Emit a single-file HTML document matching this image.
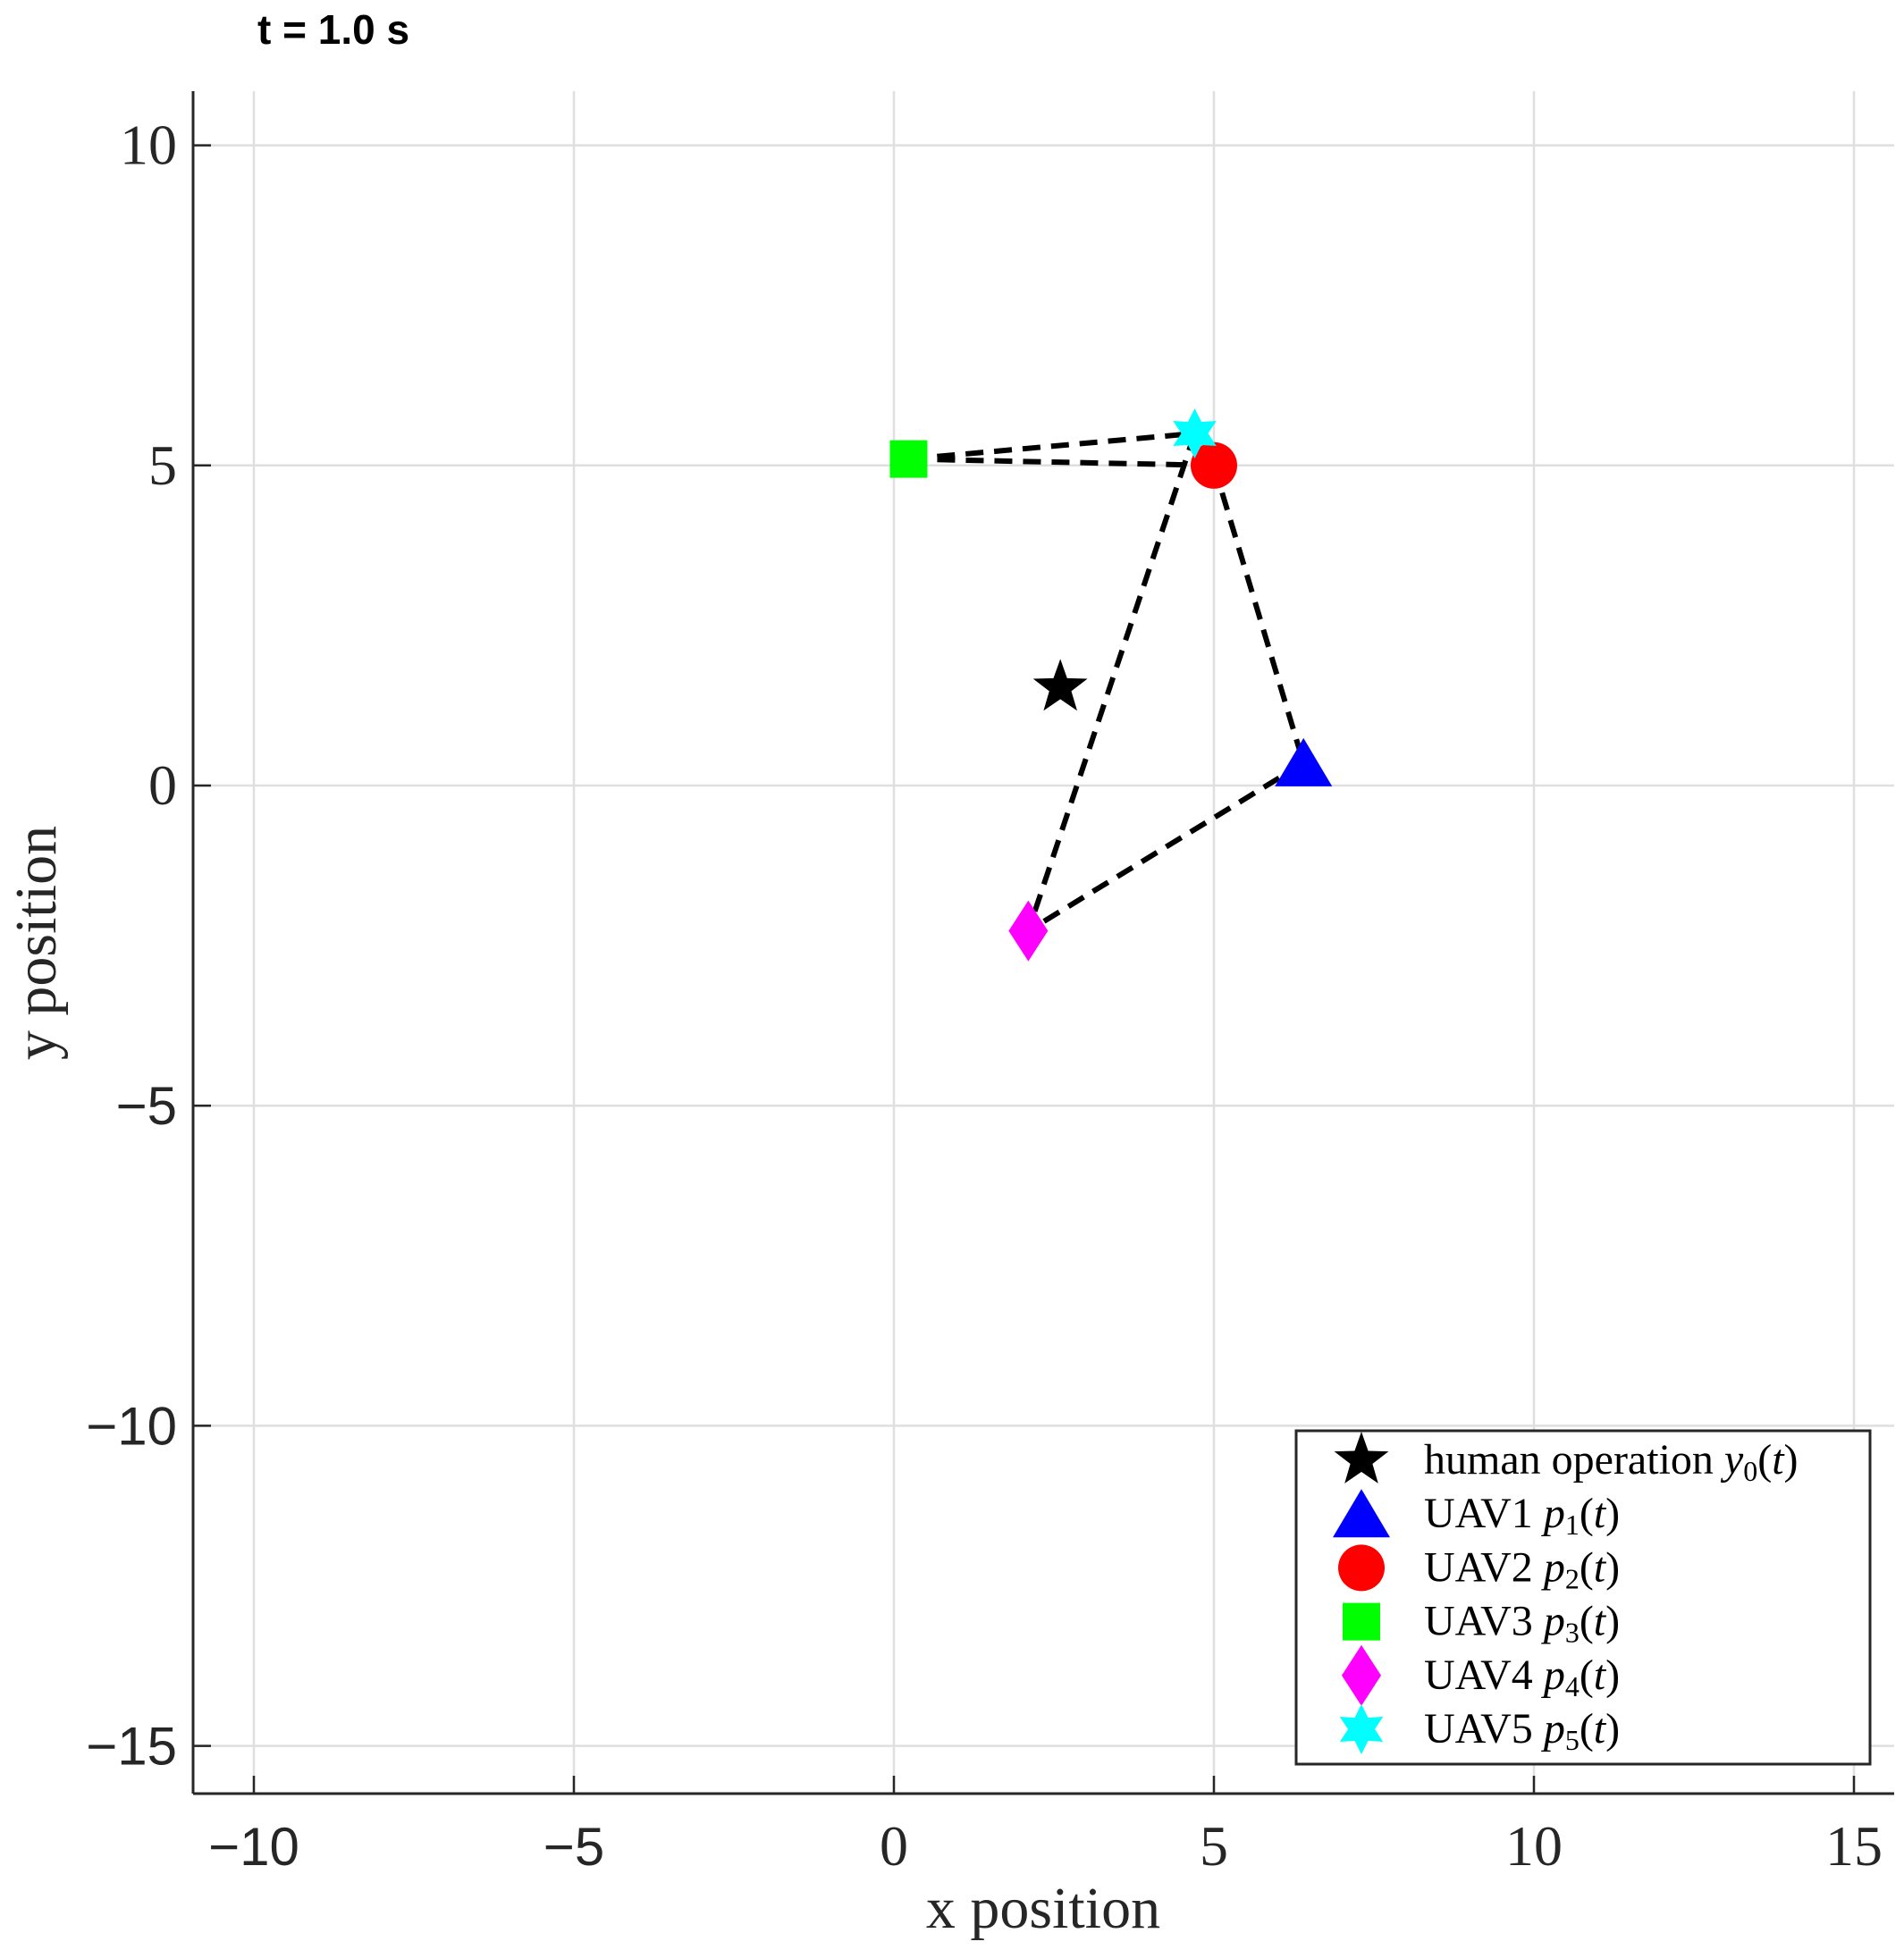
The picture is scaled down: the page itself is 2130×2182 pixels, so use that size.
<!DOCTYPE html>
<html><head><meta charset="utf-8"><style>
html,body{margin:0;padding:0;background:#fff;}
svg{display:block;}
.serif{font-family:"Liberation Serif",serif;}
.sans{font-family:"Liberation Sans",sans-serif;}
</style></head>
<body>
<svg id="chart" width="2130" height="2182" viewBox="0 0 2130 2182" xmlns="http://www.w3.org/2000/svg">
<rect width="2130" height="2182" fill="#fff"/>
<text x="288" y="49" class="sans" font-size="46" font-weight="bold" fill="#000">t = 1.0 s</text>
<g id="grid"></g>
<g id="axes"></g>
<g id="links"></g>
<g id="marks"></g>
<text x="1167" y="2157" text-anchor="middle" class="serif" font-size="66" fill="#262626">x position</text>
<text transform="translate(62,1055) rotate(-90)" x="0" y="0" text-anchor="middle" class="serif" font-size="66" fill="#262626">y position</text>
<g id="legend"></g>
</svg>
<script>
const xTicks = [-10, -5, 0, 5, 10, 15];
const yTicks = [10, 5, 0, -5, -10, -15];
const agentNames = ["human operation", "UAV1", "UAV2", "UAV3", "UAV4", "UAV5"];
const agentX = [2.6, 6.4, 5.0, 0.23, 2.1, 4.7];
const agentY = [1.53, 0.35, 5.0, 5.1, -2.27, 5.5];
const linkFrom = [3, 3, 5, 2, 1];
const linkTo = [5, 2, 4, 1, 4];

const NS = "http://www.w3.org/2000/svg";
const L = 216, R = 2119, T = 102, B = 2007;
function sx(v){ return 284 + (v + 10) * 71.6; }
function sy(v){ return 879 - v * 71.64; }
function mk(tag, attrs, parent){
  const e = document.createElementNS(NS, tag);
  for (const k in attrs) e.setAttribute(k, attrs[k]);
  parent.appendChild(e); return e;
}
const grid = document.getElementById('grid');
const axes = document.getElementById('axes');
xTicks.forEach(v=>{
  const g = mk('line',{x1:sx(v),x2:sx(v),y1:T,y2:B,stroke:'#dfdfdf','stroke-width':2.5},grid);
  
  
  const t = mk('line',{x1:sx(v),x2:sx(v),y1:B,y2:B-20,stroke:'#262626','stroke-width':2.5},axes);
  
  
  const lab = mk('text',{x:sx(v),y:2087,'text-anchor':'middle','font-size':v<0?60:64,fill:'#262626','class': v<0?'sans':'serif'},axes);
  lab.textContent = v<0 ? '\u2212'+Math.abs(v) : String(v);
  
  
});
yTicks.forEach(v=>{
  const g = mk('line',{x1:L,x2:R,y1:sy(v),y2:sy(v),stroke:'#dfdfdf','stroke-width':2.5},grid);
  
  
  const t = mk('line',{x1:L,x2:L+20,y1:sy(v),y2:sy(v),stroke:'#262626','stroke-width':2.5},axes);
  
  
  const lab = mk('text',{x:L-18,y:sy(v)+21,'text-anchor':'end','font-size':v<0?60:64,fill:'#262626','class': v<0?'sans':'serif'},axes);
  lab.textContent = v<0 ? '\u2212'+Math.abs(v) : String(v);
  
  
});
const xa = mk('line',{x1:L,x2:R,y1:B,y2:B,stroke:'#262626','stroke-width':3},axes);


const ya = mk('line',{x1:L,x2:L,y1:T,y2:B,stroke:'#262626','stroke-width':3},axes);



const links = document.getElementById('links');
linkFrom.forEach((a,i)=>{
  const b = linkTo[i];
  const l = mk('line',{x1:sx(agentX[a]),y1:sy(agentY[a]),x2:sx(agentX[b]),y2:sy(agentY[b]),stroke:'#000','stroke-width':6,'stroke-dasharray':'20 12'},links);
  
  
});

function starPts(cx,cy,ro,ri,n,rot){
  let p=[];
  for(let i=0;i<2*n;i++){const r=i%2?ri:ro;const a=rot+Math.PI*i/n;p.push((cx+r*Math.sin(a)).toFixed(1)+','+(cy-r*Math.cos(a)).toFixed(1));}
  return p.join(' ');
}
const colors = ['#000','#0000ff','#ff0000','#00ff00','#ff00ff','#00ffff'];
function marker(i,cx,cy,parent){
  let e;
  if(i===0) e = mk('polygon',{points:starPts(cx,cy,32,13,5,0),fill:colors[0]},parent);
  else if(i===1) e = mk('polygon',{points:`${cx},${cy-28} ${cx+32},${cy+26} ${cx-32},${cy+26}`,fill:colors[1]},parent);
  else if(i===2) e = mk('circle',{cx:cx,cy:cy,r:26,fill:colors[2]},parent);
  else if(i===3) e = mk('rect',{x:cx-21,y:cy-21,width:42,height:42,fill:colors[3]},parent);
  else if(i===4) e = mk('polygon',{points:`${cx},${cy-34} ${cx+22},${cy} ${cx},${cy+34} ${cx-22},${cy}`,fill:colors[4]},parent);
  else e = mk('polygon',{points:starPts(cx,cy,28,15,6,0),fill:colors[5]},parent);
  return e;
}
const marks = document.getElementById('marks');
const order = [1,2,3,4,5,0];
order.forEach(i=>{
  const e = marker(i,sx(agentX[i]),sy(agentY[i]),marks);
  
  
});

const legend = document.getElementById('legend');
const box = mk('rect',{x:1450,y:1601,width:642,height:373,fill:'#fff',stroke:'#262626','stroke-width':3},legend);


const subs = ['y','p','p','p','p','p'];
agentNames.forEach((n,i)=>{
  const y = 1634 + i*60.2;
  const m = marker(i,1523,y,legend);
  
  
  const t = mk('text',{x:1593,y:y+15,'font-size':48,fill:'#000','class':'serif'},legend);
  t.innerHTML = n + ' <tspan font-style="italic">' + subs[i] + '</tspan><tspan font-size="32" dy="8">' + i + '</tspan><tspan dy="-8">(</tspan><tspan font-style="italic">t</tspan>)';
  
  
});
</script>
</body></html>
